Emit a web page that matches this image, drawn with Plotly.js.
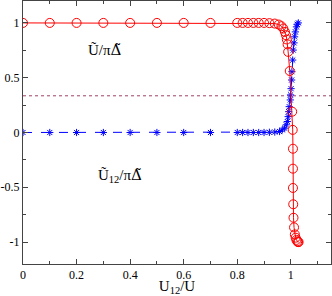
<!DOCTYPE html>
<html><head><meta charset="utf-8">
<script src="https://cdn.plot.ly/plotly-3.0.1.min.js"></script>
<style>html,body{margin:0;padding:0;background:#fff}#c{width:332px;height:296px}</style>
</head><body><div id="c"></div>
<script>
var redX = [0,0.1,0.2,0.3,0.4,0.5,0.6,0.7,0.8,0.82,0.84,0.86,0.88,0.9,0.92,0.94,0.955,0.965,0.972,0.978,0.982,0.985,0.988,0.990,0.996,1.005,1.007,1.008,1.008,1.008,1.009,1.010,1.012,1.015,1.018,1.021,1.024,1.027,1.029];
var redY = [1,1,1,1,1,1,1,1,1,1,1,1,1,1,0.998,0.994,0.985,0.97,0.949,0.918,0.888,0.849,0.804,0.736,0.561,0.19,0.024,-0.148,-0.33,-0.506,-0.655,-0.778,-0.866,-0.93,-0.96,-0.98,-0.993,-1.0,-1.0];
var blueX = [0,0.1,0.2,0.3,0.4,0.5,0.6,0.7,0.8,0.82,0.84,0.86,0.88,0.9,0.92,0.94,0.958,0.968,0.977,0.983,0.987,0.990,0.992,0.994,0.998,0.999,1.001,1.003,1.004,1.007,1.009,1.012,1.014,1.017,1.021,1.024,1.028];
var blueY = [0,0,0,0,0,0,0,0,0,0,0,0,0,0,0.002,0.004,0.009,0.024,0.04,0.07,0.1,0.145,0.19,0.236,0.297,0.343,0.4,0.479,0.555,0.661,0.752,0.818,0.873,0.918,0.964,0.988,1.0];
var refLineY = [0.335, 0.335];
var refLineX = [0, 1.15];
var xTickVals = [0,0.2,0.4,0.6,0.8,1];
var xTickText = ["0","0.2","0.4","0.6","0.8","1"];
var yTickVals = [-1,-0.5,0,0.5,1];
var yTickText = ["-1","-0.5","0","0.5","1"];
var deltaTilde = "<span style='font-family:DejaVu Serif'>Δ̃</span>";
var labelU = "Ũ/π" + deltaTilde;
var labelU12 = "Ũ<sub>12</sub>/π" + deltaTilde;
var xTitle = "U<sub>12</sub>/U";

var serif = "Liberation Serif, Times New Roman, serif";
var traces = [
  {x: refLineX, y: refLineY, mode: 'lines', line: {color: '#a0406a', width: 1, dash: 'dot'}, hoverinfo: 'skip'},
  {x: blueX, y: blueY, mode: 'lines+markers', line: {color: '#0000ff', width: 1, dash: 'dash'},
   marker: {symbol: 'asterisk-open', size: 6, color: '#0000ff', line: {color: '#0000ff', width: 1}}},
  {x: redX, y: redY, mode: 'lines+markers', line: {color: '#ff0000', width: 1},
   marker: {symbol: 'circle-open', size: 9, color: '#ff0000', line: {color: '#ff0000', width: 1}}}
];
var axisCommon = {
  showgrid: false, zeroline: false, showline: true, linecolor: '#444', linewidth: 1,
  mirror: 'allticks', ticks: 'inside', ticklen: 5, tickcolor: '#444', tickmode: 'array',
  tickfont: {family: serif, size: 12, color: '#000'}
};
var layout = {
  width: 332, height: 296, showlegend: false,
  margin: {l: 23, r: 1, t: 1, b: 32},
  paper_bgcolor: '#fff', plot_bgcolor: '#fff',
  xaxis: Object.assign({}, axisCommon, {range: [0, 1.15], tickvals: xTickVals, ticktext: xTickText,
    minor: {ticks: 'inside', dtick: 0.1, ticklen: 3, tickcolor: '#444'},
    title: {text: xTitle, font: {family: serif, size: 15, color: '#000'}, standoff: 3}}),
  yaxis: Object.assign({}, axisCommon, {range: [-1.2, 1.2], tickvals: yTickVals, ticktext: yTickText,
    minor: {ticks: 'inside', dtick: 0.25, ticklen: 3, tickcolor: '#444'}, ticklabelstandoff: 0}),
  annotations: [
    {x: 0.307, y: 0.75, xref: 'x', yref: 'y', text: labelU, showarrow: false, font: {family: serif, size: 15, color: '#000'}},
    {x: 0.363, y: -0.39, xref: 'x', yref: 'y', text: labelU12, showarrow: false, font: {family: serif, size: 15, color: '#000'}}
  ]
};
Plotly.newPlot('c', traces, layout, {staticPlot: true, displayModeBar: false});
</script></body></html>
